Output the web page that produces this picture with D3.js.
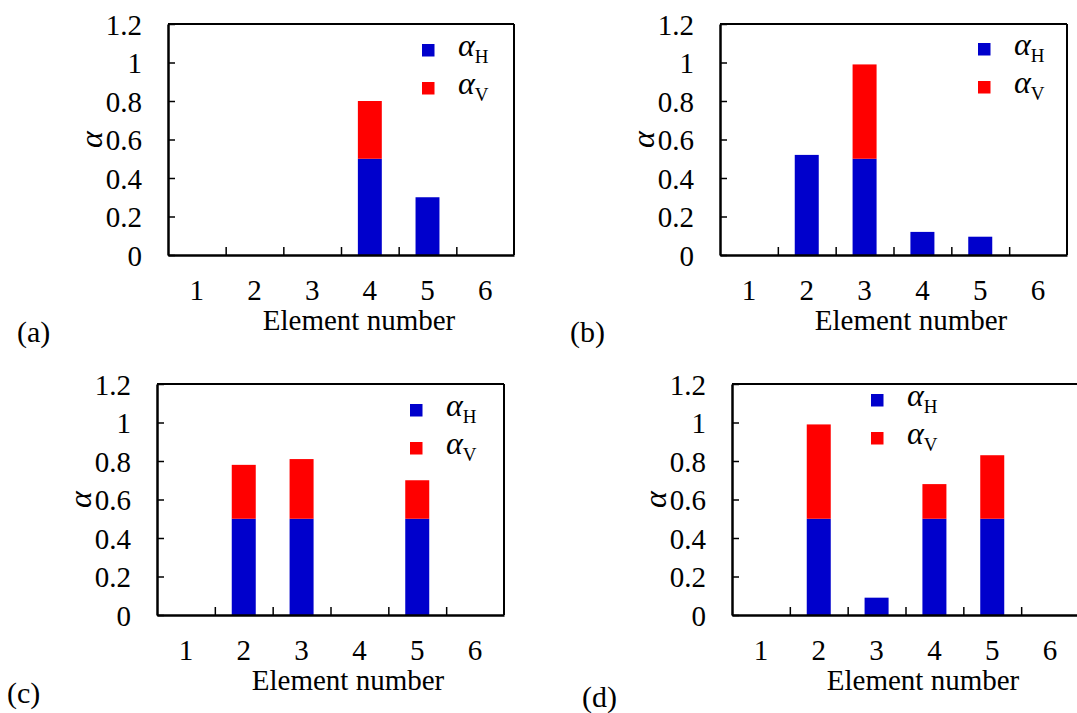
<!DOCTYPE html>
<html>
<head>
<meta charset="utf-8">
<script src="https://cdn.jsdelivr.net/npm/d3@7"></script>
<style>
  body { margin: 0; background: #fff; }
</style>
</head>
<body>
<svg id="chart"></svg>
<script>
const svgWidth = 1077;
const svgHeight = 713;
const serif = "'Liberation Serif', 'Times New Roman', Times, serif";

// Data
const elements = ["1", "2", "3", "4", "5", "6"];
const yTicks = [0, 0.2, 0.4, 0.6, 0.8, 1, 1.2];
const seriesKeys = ["H", "V"];
const seriesColors = { H: "#0000cc", V: "#ff0000" };

const alphaH_a = [0, 0, 0, 0.5, 0.3, 0];
const alphaV_a = [0, 0, 0, 0.3, 0, 0];
const alphaH_b = [0, 0.52, 0.5, 0.12, 0.095, 0];
const alphaV_b = [0, 0, 0.49, 0, 0, 0];
const alphaH_c = [0, 0.5, 0.5, 0, 0.5, 0];
const alphaV_c = [0, 0.28, 0.31, 0, 0.2, 0];
const alphaH_d = [0, 0.5, 0.09, 0.5, 0.5, 0];
const alphaV_d = [0, 0.49, 0, 0.18, 0.33, 0];

const svg = d3.select("#chart").attr("width", svgWidth).attr("height", svgHeight)
  .style("font-family", serif);

// panel layout (plot area in page pixels)
const panels = [
  { tag: "(a)", H: alphaH_a, V: alphaV_a, left: 168, top: 24, width: 346, height: 231,
    tagX: 17, tagY: 342, legX: 254, legY: 20 },
  { tag: "(b)", H: alphaH_b, V: alphaV_b, left: 720, top: 24, width: 347, height: 231,
    tagX: 570, tagY: 342, legX: 258, legY: 19 },
  { tag: "(c)", H: alphaH_c, V: alphaV_c, left: 157, top: 384, width: 347, height: 231,
    tagX: 7, tagY: 703, legX: 253, legY: 20 },
  { tag: "(d)", H: alphaH_d, V: alphaV_d, left: 732, top: 384, width: 347, height: 231,
    tagX: 582, tagY: 707, legX: 139, legY: 10 },
];

const drawPanel = (p) => {
  const g = svg.append("g").attr("transform", `translate(${p.left},${p.top})`);

  const x = d3.scaleBand().domain(elements).range([0, p.width]).padding(0);
  const xEdge = d3.scaleLinear().domain([0, elements.length]).range([0, p.width]);
  const y = d3.scaleLinear().domain([0, 1.2]).range([p.height, 0]);

  const rows = elements.map((e, i) => ({ el: e, H: p.H[i], V: p.V[i] }));
  const stacked = d3.stack().keys(seriesKeys)(rows);
  const barW = x.bandwidth() * 0.415;

  // bars
  g.selectAll(".layer")
    .data(stacked)
    .join("g")
    .attr("fill", (s) => seriesColors[s.key])
    .selectAll("rect")
    .data((s) => s.filter((d) => d[1] - d[0] > 0))
    .join("rect")
    .attr("x", (d) => x(d.data.el) + (x.bandwidth() - barW) / 2)
    .attr("width", barW)
    .attr("y", (d) => y(d[1]))
    .attr("height", (d) => y(d[0]) - y(d[1]));

  // top and right frame
  g.append("line").attr("x1", 0).attr("x2", p.width).attr("y1", 0).attr("y2", 0)
    .attr("stroke", "#000").attr("stroke-width", 2);
  g.append("line").attr("x1", p.width).attr("x2", p.width).attr("y1", 0).attr("y2", p.height)
    .attr("stroke", "#000").attr("stroke-width", 2);

  // y axis, ticks pointing inward
  const yAxis = g.append("g").call(
    d3.axisLeft(y).tickValues(yTicks).tickSizeInner(-7).tickSizeOuter(0)
      .tickPadding(26).tickFormat((d) => d3.format("")(+d.toFixed(1)))
  );
  yAxis.attr("font-family", null);
  yAxis.select(".domain").attr("stroke-width", 2.5);
  yAxis.selectAll(".tick line").attr("stroke-width", 1.5);
  yAxis.selectAll("text").style("font-family", serif).attr("font-size", 29).attr("dy", "0.35em");

  // x axis: ticks at category boundaries, labels at centres
  const xTicks = g.append("g").attr("transform", `translate(0,${p.height})`).call(
    d3.axisBottom(xEdge).tickValues(d3.range(1, elements.length)).tickSizeInner(-8)
      .tickSizeOuter(0).tickFormat("")
  );
  xTicks.select(".domain").attr("stroke-width", 2.5);
  xTicks.selectAll(".tick line").attr("stroke-width", 1.5);

  const xLabels = g.append("g").attr("transform", `translate(0,${p.height})`).call(
    d3.axisBottom(x).tickSize(0).tickPadding(0)
  );
  xLabels.attr("font-family", null);
  xLabels.select(".domain").remove();
  xLabels.selectAll("text").style("font-family", serif).attr("font-size", 29)
    .attr("dy", null).attr("y", 45);

  // axis titles
  g.append("text")
    .attr("x", 191).attr("y", p.height + 75)
    .attr("text-anchor", "middle").attr("font-size", 29)
    .style("font-family", serif)
    .text("Element number");

  g.append("text")
    .attr("transform", `translate(-66,${p.height / 2}) rotate(-90)`)
    .attr("text-anchor", "middle").attr("font-size", 32).attr("font-style", "italic")
    .style("font-family", serif)
    .text("α");

  // legend
  seriesKeys.forEach((k, i) => {
    const ly = p.legY + i * 38;
    g.append("rect").attr("x", p.legX).attr("y", ly).attr("width", 12.5).attr("height", 12.5)
      .attr("fill", seriesColors[k]);
    const t = g.append("text").attr("x", p.legX + 36).attr("y", ly + 12).style("font-family", serif);
    t.append("tspan").attr("font-size", 32).attr("font-style", "italic").text("α");
    t.append("tspan").attr("font-size", 19).attr("dy", 7).text(k);
  });

  // panel tag
  svg.append("text").attr("x", p.tagX).attr("y", p.tagY).attr("font-size", 30)
    .style("font-family", serif).text(p.tag);
};

panels.forEach(drawPanel);
</script>
</body>
</html>
